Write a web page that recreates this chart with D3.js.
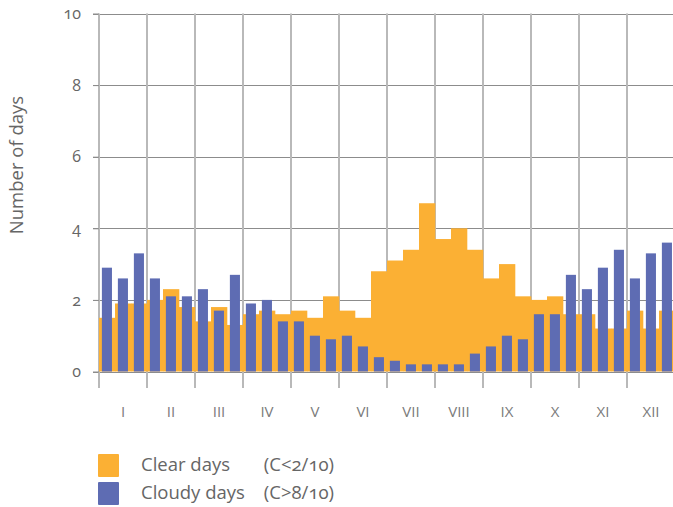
<!DOCTYPE html>
<html>
<head>
<meta charset="utf-8">
<script src="https://cdn.jsdelivr.net/npm/d3@7"></script>
<style>
  html, body { margin: 0; padding: 0; background: #fff; }
  svg { display: block; font-family: "Open Sans", "Lato", sans-serif; font-variant-numeric: oldstyle-nums; font-feature-settings: "onum" 1; }
</style>
</head>
<body>
<svg id="chart" width="673" height="507"></svg>
<script>
const months = ["I","II","III","IV","V","VI","VII","VIII","IX","X","XI","XII"];
const dekads = d3.range(1, 37);
const clearDays = [1.5,1.9,1.9, 2.0,2.3,1.8, 1.4,1.8,1.3, 1.6,1.7,1.6,
                   1.7,1.5,2.1, 1.7,1.5,2.8, 3.1,3.4,4.7, 3.7,4.0,3.4,
                   2.6,3.0,2.1, 2.0,2.1,1.6, 1.6,1.2,1.2, 1.7,1.2,1.7];
const cloudyDays = [2.9,2.6,3.3, 2.6,2.1,2.1, 2.3,1.7,2.7, 1.9,2.0,1.4,
                    1.4,1.0,0.9, 1.0,0.7,0.4, 0.3,0.2,0.2, 0.2,0.2,0.5,
                    0.7,1.0,0.9, 1.6,1.6,2.7, 2.3,2.9,3.4, 2.6,3.3,3.6];
const yTicks = [0,2,4,6,8,10];
const seriesNames = ["Clear days", "Cloudy days"];
const seriesNotes = ["(C<2/10)", "(C>8/10)"];
const colors = ["#FBB034", "#5E6CB3"];

const svg = d3.select("#chart");
const x0 = 99, x1 = 675, yTop = 13.5, yBase = 371.5, yBottom = 388;

const xD = d3.scaleBand().domain(dekads).range([x0, x1]).paddingInner(0).paddingOuter(0);
const xM = d3.scaleBand().domain(months).range([x0, x1]);
const y = d3.scaleLinear().domain([0, 10]).range([yBase, yTop]);

// horizontal gridlines
svg.append("g").selectAll("line").data(yTicks).join("line")
  .attr("x1", x0 - 6).attr("x2", 673)
  .attr("y1", d => Math.round(y(d)) + 0.5).attr("y2", d => Math.round(y(d)) + 0.5)
  .attr("stroke", "#8c8c8c").attr("stroke-width", 1);

// vertical gridlines at month boundaries
const bounds = months.map(m => xM(m)).concat([x1]);
svg.append("g").selectAll("line").data(bounds).join("line")
  .attr("x1", d => d).attr("x2", d => d)
  .attr("y1", yTop).attr("y2", yBottom)
  .attr("stroke", "#b9b9b9").attr("stroke-width", 2);

// clear bars
svg.append("g").selectAll("rect").data(dekads).join("rect")
  .attr("x", d => xD(d)).attr("width", xD.bandwidth() + 0.3)
  .attr("y", (d, i) => y(clearDays[i]))
  .attr("height", (d, i) => yBase - y(clearDays[i]))
  .attr("fill", colors[0]);

// cloudy bars
svg.append("g").selectAll("rect").data(dekads).join("rect")
  .attr("x", d => xD(d) + xD.bandwidth() * 0.18).attr("width", xD.bandwidth() * 0.63)
  .attr("y", (d, i) => y(cloudyDays[i]))
  .attr("height", (d, i) => yBase - y(cloudyDays[i]))
  .attr("fill", colors[1]);

// y axis
const yAxis = d3.axisLeft(y).tickValues(yTicks).tickSize(6).tickPadding(12);
const ga = svg.append("g").attr("transform", `translate(${x0},0)`).call(yAxis);
ga.select(".domain").remove();
ga.selectAll(".tick line").attr("stroke", "#8c8c8c");
ga.selectAll(".tick text").attr("fill", "#666").attr("font-size", 16)
  .style("font-family", "'Open Sans', Lato, sans-serif");

// month labels
svg.append("g").attr("opacity", 0.99).selectAll("text").data(months).join("text")
  .attr("x", d => xM(d) + xM.bandwidth() / 2)
  .attr("y", 417)
  .attr("text-anchor", "middle")
  .attr("fill", "#7a7a7a").attr("font-size", 15)
  .text(d => d);

// y title
svg.append("text")
  .attr("transform", "translate(23,165) rotate(-90)")
  .attr("text-anchor", "middle")
  .attr("fill", "#666").attr("font-size", 18.5)
  .text("Number of days");

// legend
const lg = svg.append("g");
seriesNames.forEach((name, i) => {
  const yy = 454 + i * 28;
  lg.append("rect").attr("x", 98).attr("y", yy).attr("width", 21).attr("height", 23)
    .attr("rx", 1).attr("fill", colors[i]);
  lg.append("text").attr("x", 141).attr("y", yy + 16.5).attr("fill", "#666").attr("font-size", 18.5).text(name);
  lg.append("text").attr("x", 334).attr("y", yy + 16.5).attr("text-anchor", "end")
    .attr("fill", "#666").attr("font-size", 18.5).text(seriesNotes[i]);
});
</script>
</body>
</html>
